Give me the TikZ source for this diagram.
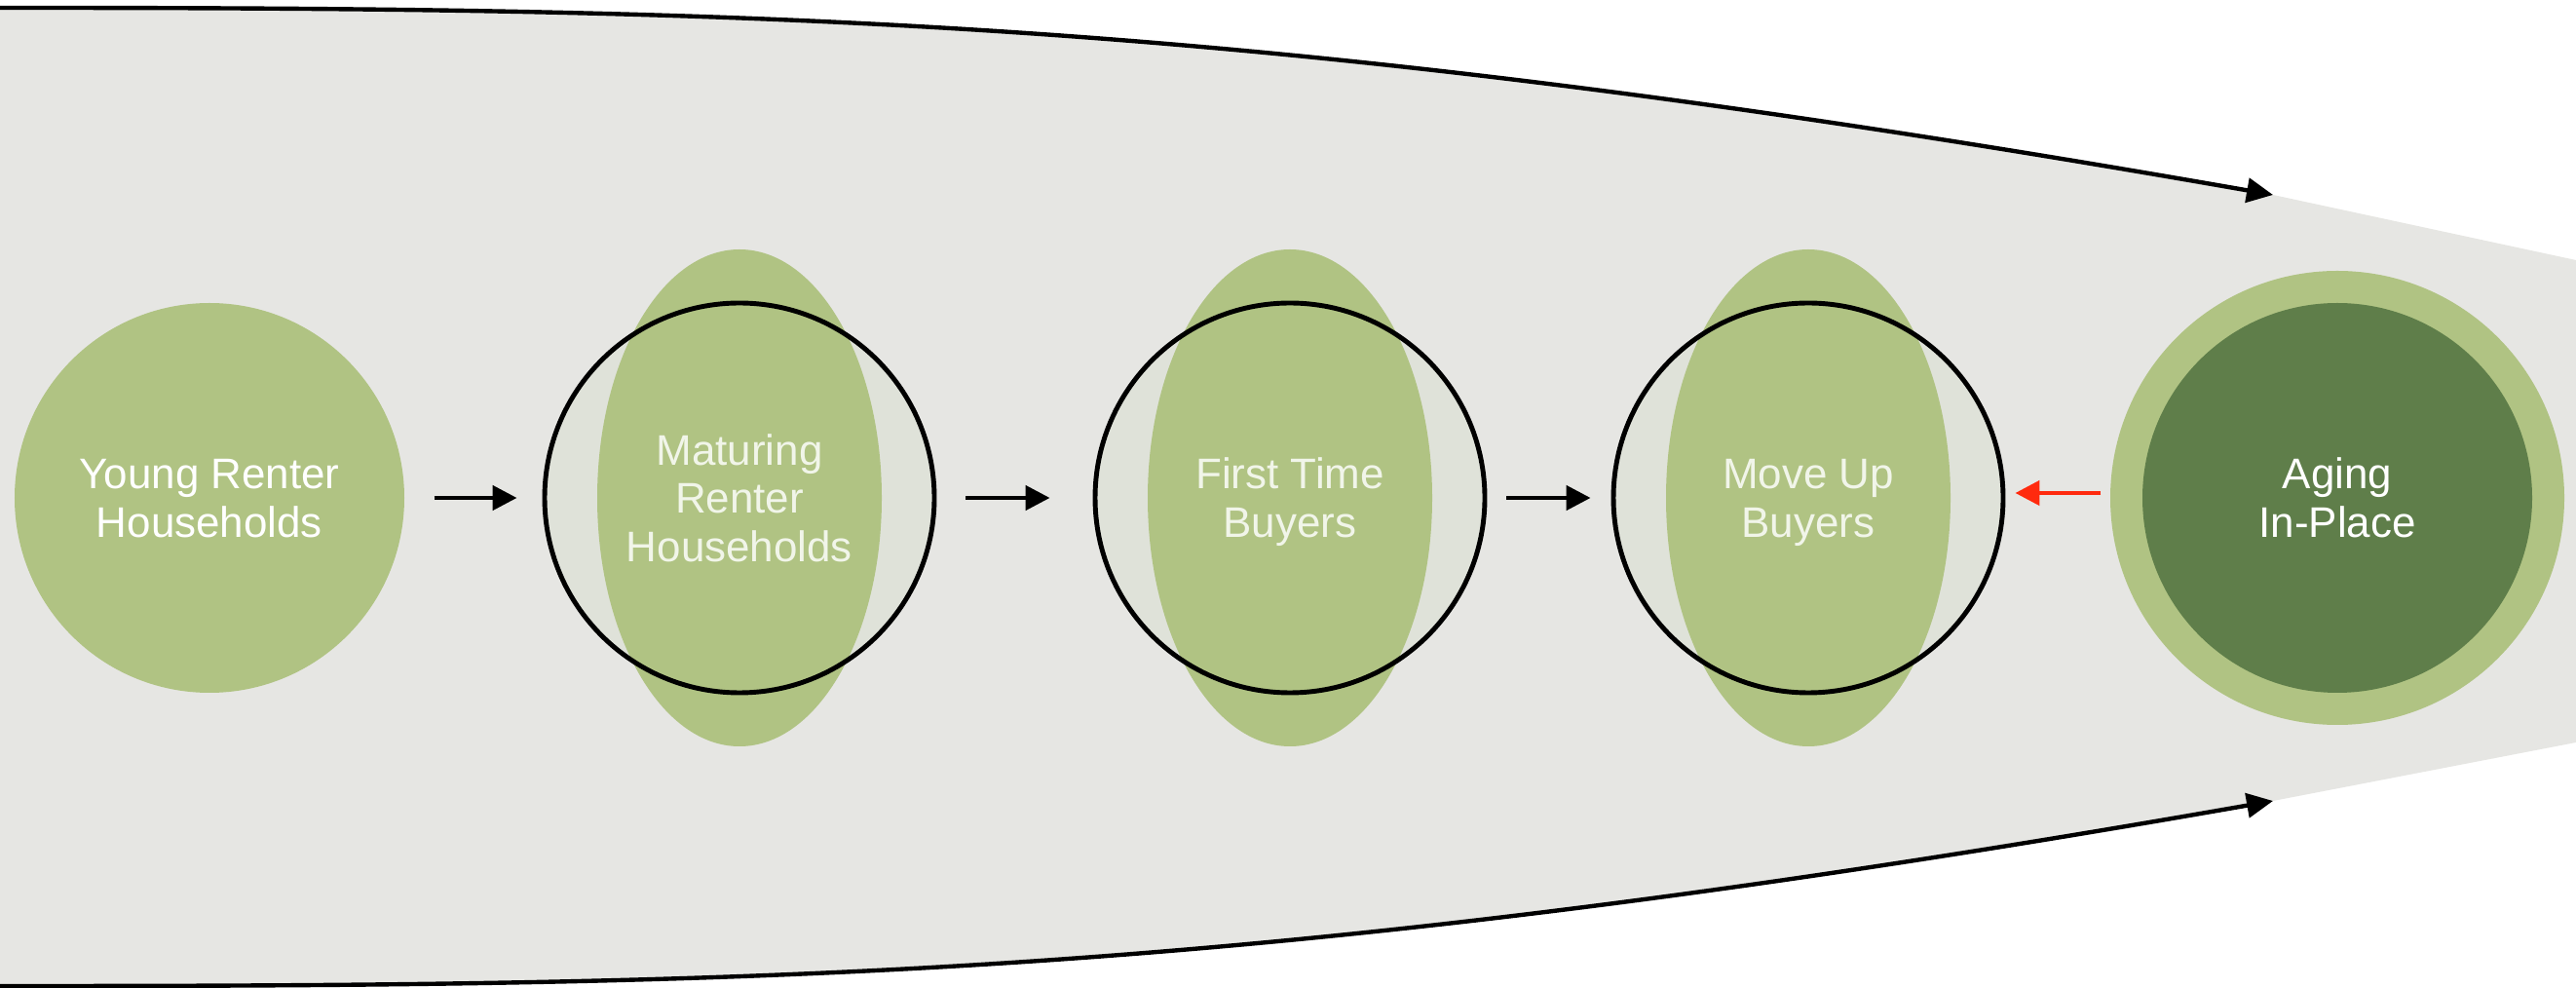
\documentclass[tikz,border=0pt]{standalone}
\usepackage{fontspec}
\setmainfont{Liberation Sans}
\usetikzlibrary{shapes.geometric,arrows.meta}
\definecolor{bandgray}{HTML}{E6E6E3}
\definecolor{sage}{HTML}{B0C383}
\definecolor{moss}{HTML}{5F7E4A}
\definecolor{haze}{HTML}{DFE2D9}
\definecolor{softwhite}{HTML}{F1F5E9}
\definecolor{alertred}{HTML}{FF2A0E}
\begin{document}
\begin{tikzpicture}[
        label text/.style={align=center, text depth=0pt,
            font=\fontsize{12.5}{14.2}\selectfont},
        stage/.style={circle, minimum size=4cm, inner sep=0pt},
        lens/.style={ellipse, fill=sage, minimum width=2.92cm,
            minimum height=5.1cm, inner sep=0pt},
        flow/.style={line width=1.3pt, -{Triangle[length=0.25cm,width=0.25cm]}},
        sweep/.style={line width=1.25pt, -{Triangle[length=0.27cm,width=0.25cm]}}
    ]
                \useasboundingbox (0,0) rectangle (26.44,10.13);

                \coordinate (topstart) at (0,10.05);
                \coordinate (toptip)   at (23.33,8.13);
                \coordinate (botstart) at (0,0.01);
                \coordinate (bottip)   at (23.33,1.91);

                \fill[bandgray] (topstart)
                    .. controls (8,10.05) and (13,9.94) .. (toptip)
                    -- (26.44,7.46) -- (26.44,2.51) -- (bottip)
                    .. controls (13,0.10) and (8,0.01) .. (botstart) -- cycle;

                \draw[sweep] (topstart)
                    .. controls (8,10.05) and (13,9.94) .. (toptip);
                \draw[sweep] (botstart)
                    .. controls (8,0.01) and (13,0.10) .. (bottip);

                \node[stage, fill=sage, label text, text=white]
                    (young) at (2.15,5.02) {Young Renter\\Households};

                \node[stage, fill=haze] (maturingbg) at (7.59,5.02) {};
                \node[lens] (maturinglens) at (maturingbg) {};
                \node[stage, draw, line width=1.4pt, label text, text=softwhite]
                    (maturing) at (maturingbg) {Maturing\\Renter\\Households};

                \node[stage, fill=haze] (firstbg) at (13.24,5.02) {};
                \node[lens] (firstlens) at (firstbg) {};
                \node[stage, draw, line width=1.4pt, label text, text=softwhite]
                    (first) at (firstbg) {First Time\\Buyers};

                \node[stage, fill=haze] (moveupbg) at (18.56,5.02) {};
                \node[lens] (moveuplens) at (moveupbg) {};
                \node[stage, draw, line width=1.4pt, label text, text=softwhite]
                    (moveup) at (moveupbg) {Move Up\\Buyers};

                \node[stage, fill=sage, minimum size=4.66cm]
                    (agingring) at (23.99,5.02) {};
                \node[stage, fill=moss, label text, text=white]
                    (aging) at (agingring) {Aging\\In-Place};

                \draw[flow, shorten <=0.30cm, shorten >=0.26cm] (young) -- (maturing);
                \draw[flow, shorten <=0.30cm, shorten >=0.44cm] (maturing) -- (first);
                \draw[flow, shorten <=0.20cm, shorten >=0.21cm] (first) -- (moveup);
                \draw[flow, alertred, shorten <=0.09cm, shorten >=0.10cm]
                    ([yshift=0.05cm]agingring.west) -- ([yshift=0.05cm]moveup.east);
            \end{tikzpicture}
\end{document}
